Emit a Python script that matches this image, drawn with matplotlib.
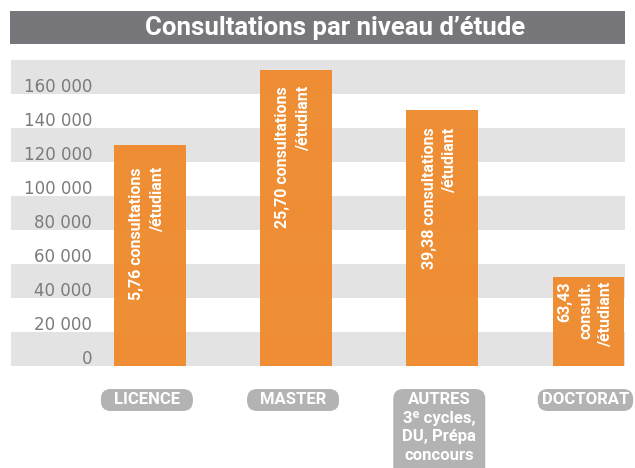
import matplotlib
matplotlib.use('Agg')
from matplotlib import pyplot as plt
from matplotlib.patches import Rectangle, FancyBboxPatch
from matplotlib.transforms import blended_transform_factory

# data
categories = ['LICENCE', 'MASTER', 'AUTRES\n3ᵉ cycles,\nDU, Prépa\nconcours', 'DOCTORAT']
consultations = [130000, 174000, 150500, 52300]
bar_texts = ['5,76 consultations\n/étudiant',
             '25,70 consultations\n/étudiant',
             '39,38 consultations\n/étudiant',
             '63,43\nconsult.\n/étudiant']
yticks = [0, 20000, 40000, 60000, 80000, 100000, 120000, 140000, 160000]
ytick_labels = ['0', '20 000', '40 000', '60 000', '80 000', '100 000',
                '120 000', '140 000', '160 000']
title = 'Consultations par niveau d\u2019étude'

# layout (gap between bar top and its text)
text_gaps = [13000, 9500, 10200, 2600]

W, H = 635, 468
fig = plt.figure(figsize=(W / 100, H / 100), dpi=100)

ax = fig.add_axes([11 / W, 1 - 366 / H, 614 / W, 306 / H])
ax.set_xlim(-0.95, 3.25)
ax.set_ylim(0, 180000)
ax.axis('off')

# overlay in pixel units for the banner and the pills
ov = fig.add_axes([0, 0, 1, 1])
ov.set_xlim(0, W)
ov.set_ylim(H, 0)
ov.axis('off')

ov.add_patch(Rectangle((10, 11), 615, 33, color='#77777b', lw=0))
ov.text(335, 28, title, color='white', fontsize=18.5, fontweight='bold',
        family='Roboto', ha='center', va='center')

# alternating bands
for i in range(9):
    if i % 2 == 0:
        ax.axhspan(i * 20000, (i + 1) * 20000, color='#e3e3e3', lw=0, zorder=0)

x = range(len(categories))
ax.bar(x, consultations, width=0.49, color='#ef892a', alpha=0.95,
       zorder=2, clip_on=False)

for xi, v, t, g in zip(x, consultations, bar_texts, text_gaps):
    ax.text(xi - 0.02, v - g, t, rotation=90, ha='center', va='top',
            multialignment='right', color='white', fontsize=11.5,
            fontweight='bold', family='Roboto', zorder=3,
            linespacing=1.45)

# y labels sitting just above each band edge
lbl = blended_transform_factory(ax.transAxes, ax.transData)
for v, s in zip(yticks, ytick_labels):
    ax.text(81 / 614, v + 1200, s, transform=lbl, ha='right', va='baseline',
            color='#7b7b7b', fontsize=12, family='DejaVu Sans')

# category pills under the bars
renderer = fig.canvas.get_renderer()
for xi, c in zip(x, categories):
    cx = ax.transData.transform((xi, 0))[0] - 3
    lines = c.split('\n')
    texts = [ov.text(cx, 400 + 18.5 * k, line, ha='center', va='center',
                     color='white', fontsize=12, fontweight='bold',
                     family=['Roboto', 'DejaVu Sans'], zorder=3)
             for k, line in enumerate(lines)]
    tw = max(t.get_window_extent(renderer).width for t in texts)
    w = max(92, tw + 8)
    h = 22 if len(lines) == 1 else 90
    ov.add_patch(FancyBboxPatch((cx - w / 2, 389), w, h,
                                boxstyle='round,pad=0,rounding_size=10',
                                fc='#b3b3b3', ec='none', clip_on=False))

plt.savefig('out.png', dpi=100)
